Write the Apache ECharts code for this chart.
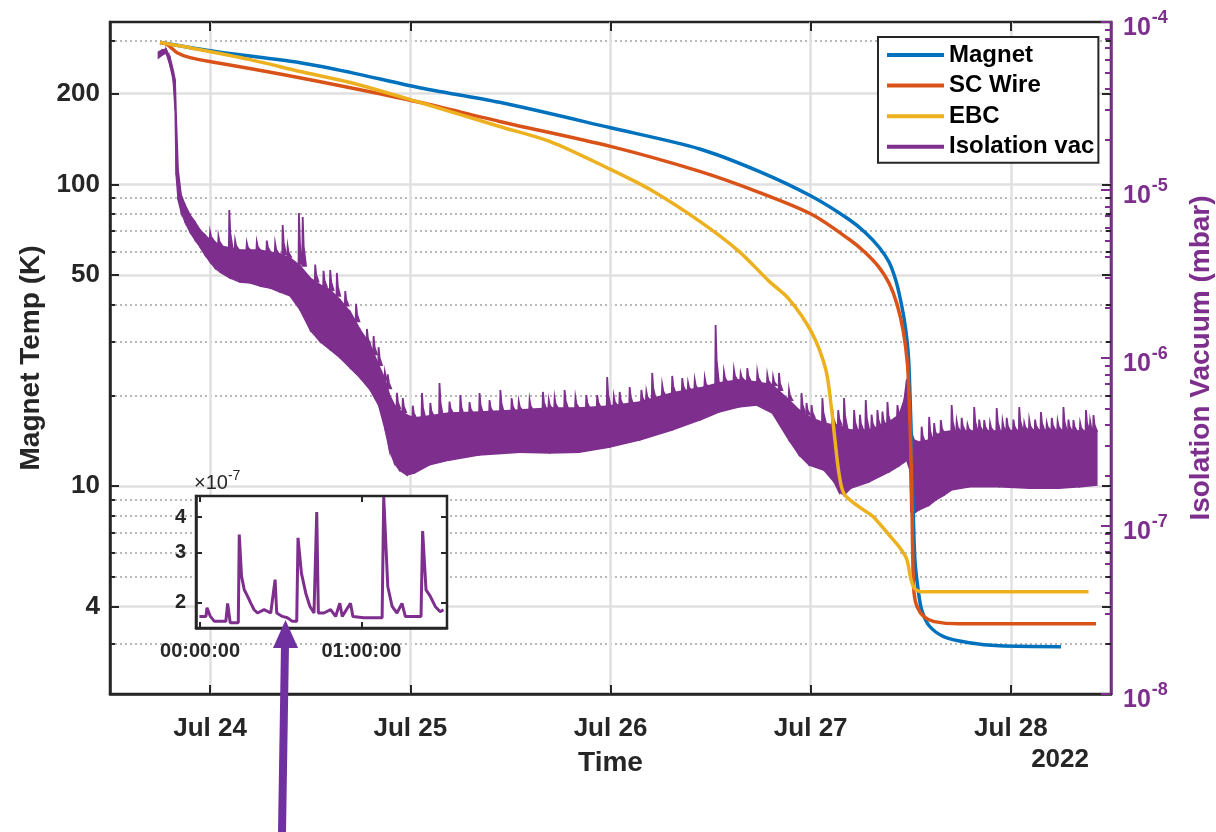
<!DOCTYPE html>
<html><head><meta charset="utf-8">
<script src="https://cdn.jsdelivr.net/npm/echarts@6/dist/echarts.min.js"></script>
<style>html,body{margin:0;padding:0;background:#fff}#chart{width:1216px;height:832px}</style>
</head><body><div id="chart"></div>
<script>
// ---------- DATA (hours since 2022-07-23 00:00) ----------
const magnetHours = [18.0, 24.8, 34.8, 40.8, 49.1, 58.7, 72.0, 82.7, 89.8, 96.1, 100.6, 102.5, 104.2, 105.4, 106.2, 106.8, 107.3, 107.7, 107.9, 108.1, 108.3, 108.5, 108.9, 109.3, 110.2, 112.0, 115.0, 118.6, 126.0];
const magnetTemp  = [295, 275, 253, 235, 209, 187, 154, 131, 110.4, 91.3, 76.5, 69.4, 61.9, 55.2, 48.1, 41.0, 34.4, 27.4, 20.2, 13.3, 8.09, 5.66, 4.50, 3.90, 3.45, 3.17, 3.03, 2.96, 2.94];

const wireHours = [18.0, 18.85, 20.05, 21.6, 24.8, 32.7, 40.8, 49.1, 58.7, 72.0, 82.7, 89.8, 96.1, 100.6, 102.5, 104.2, 105.4, 106.35, 107.1, 107.6, 107.8, 108.0, 108.15, 108.25, 108.4, 108.75, 109.6, 110.8, 113.8, 130.2];
const wireTemp  = [295, 290.5, 273, 263, 253, 231, 209, 187, 161.6, 133.6, 110.4, 94.1, 79.6, 65.8, 59.6, 53.1, 47.0, 40.1, 32.6, 25.4, 19.4, 13.3, 8.41, 5.53, 4.40, 3.99, 3.69, 3.56, 3.50, 3.50];

const ebcHours = [18.0, 20.8, 28.8, 34.8, 40.8, 49.1, 58.7, 64.7, 72.0, 76.7, 82.7, 87.4, 91.0, 93.4, 96.1, 97.8, 98.5, 98.9, 99.4, 100.0, 101.8, 103.4, 105.8, 106.6, 107.5, 108.0, 108.5, 109.6, 129.3];
const ebcTemp  = [295, 286, 259, 236.5, 217.5, 187, 155.5, 138.8, 112.1, 96.3, 75.4, 60.0, 47.8, 41.7, 32.4, 24.4, 18.0, 14.3, 10.98, 9.43, 8.54, 7.97, 6.69, 6.30, 5.75, 4.94, 4.57, 4.47, 4.47];

// Isolation vacuum (mbar): dense noisy trace read as lower / upper envelope
const vacHours = [17.8, 18.25, 18.73, 19.21, 19.57, 19.81, 19.93, 20.17, 20.53, 21.0, 21.6, 22.2, 22.8, 23.4, 24.0, 24.6, 25.2, 26.4, 27.6, 28.8, 30.0, 31.2, 32.4, 33.6, 34.8, 36.0, 37.2, 38.4, 39.6, 40.8, 42.0, 43.2, 44.2, 45.0, 45.5, 46.1, 46.7, 47.6, 48.5, 50.3, 52.7, 56.3, 61.1, 64.7, 68.3, 71.9, 75.5, 79.4, 82.7, 85.0, 87.4, 89.5, 91.4, 93.4, 94.6, 95.8, 97.6, 98.8, 99.4, 100.0, 100.8, 103.0, 105.4, 106.6, 107.2, 107.5, 107.9, 108.0, 108.4, 109.0, 110.2, 111.0, 112.0, 112.9, 115.0, 118.6, 122.2, 125.8, 128.2, 130.3];
const vacHigh = [6.63e-5, 6.81e-5, 6.91e-5, 6.11e-5, 5.18e-5, 4.52e-5, 2.80e-5, 1.32e-5, 9.34e-6, 8.14e-6, 7.10e-6, 6.45e-6, 5.78e-6, 5.40e-6, 5.04e-6, 4.90e-6, 4.64e-6, 4.52e-6, 4.39e-6, 4.39e-6, 4.39e-6, 4.27e-6, 4.16e-6, 3.94e-6, 3.53e-6, 2.99e-6, 2.72e-6, 2.54e-6, 2.21e-6, 1.88e-6, 1.47e-6, 1.195e-6, 9.08e-7, 7.40e-7, 6.02e-7, 5.25e-7, 4.90e-7, 4.58e-7, 4.40e-7, 4.52e-7, 4.71e-7, 4.77e-7, 4.90e-7, 5.04e-7, 5.04e-7, 5.18e-7, 5.47e-7, 6.19e-7, 6.63e-7, 7.10e-7, 7.40e-7, 7.20e-7, 6.91e-7, 5.62e-7, 4.90e-7, 4.46e-7, 4.10e-7, 3.99e-7, 3.99e-7, 3.83e-7, 3.73e-7, 3.73e-7, 4.16e-7, 4.58e-7, 5.62e-7, 7.40e-7, 7.71e-7, 3.73e-7, 3.25e-7, 3.16e-7, 3.25e-7, 3.48e-7, 3.63e-7, 3.68e-7, 3.68e-7, 3.68e-7, 3.73e-7, 3.73e-7, 3.68e-7, 3.68e-7];
const vacLow  = [6.11e-5, 6.36e-5, 6.54e-5, 5.47e-5, 4.52e-5, 2.99e-5, 1.23e-5, 8.72e-6, 7.40e-6, 6.45e-6, 5.62e-6, 5.04e-6, 4.58e-6, 4.10e-6, 3.73e-6, 3.43e-6, 3.25e-6, 2.99e-6, 2.83e-6, 2.80e-6, 2.68e-6, 2.61e-6, 2.47e-6, 2.34e-6, 1.93e-6, 1.47e-6, 1.25e-6, 1.12e-6, 1.00e-6, 8.72e-7, 7.60e-7, 6.45e-7, 5.25e-7, 3.73e-7, 2.83e-7, 2.37e-7, 2.15e-7, 2.01e-7, 2.07e-7, 2.31e-7, 2.47e-7, 2.65e-7, 2.75e-7, 2.72e-7, 2.75e-7, 2.95e-7, 3.25e-7, 3.73e-7, 4.27e-7, 4.77e-7, 5.11e-7, 5.25e-7, 4.71e-7, 3.25e-7, 2.65e-7, 2.31e-7, 2.15e-7, 1.83e-7, 1.59e-7, 1.53e-7, 1.68e-7, 1.83e-7, 2.10e-7, 2.28e-7, 2.40e-7, 2.47e-7, 2.15e-7, 1.21e-7, 1.19e-7, 1.25e-7, 1.33e-7, 1.43e-7, 1.53e-7, 1.64e-7, 1.71e-7, 1.71e-7, 1.68e-7, 1.68e-7, 1.71e-7, 1.75e-7];

// Larger pressure spikes: time, base, peak (mbar)
const spikeHours = [24.0, 26.3, 28.4, 32.7, 34.65, 35.1, 38.4, 39.2, 42.8, 44.2, 44.95, 47.1, 49.4, 51.5, 54.0, 55.1, 56.3, 57.5, 58.8, 60.15, 62.3, 63.9, 65.3, 66.5, 69.1, 70.4, 71.6, 73.1, 74.3, 75.7, 77.0, 78.2, 79.4, 80.6, 82.1, 83.3, 84.6, 85.6, 86.8, 88.4, 89.6, 90.8, 92.2, 93.4, 94.9, 96.1, 97.4, 98.6, 100.0, 101.2, 102.6, 104.0, 105.2, 106.4, 110.2, 111.6, 112.9, 114.1, 115.6, 116.8, 118.3, 119.5, 121.0, 122.2, 123.6, 124.9, 126.3, 127.5, 129.0, 129.9];
const spikeBase = [5.04e-6, 4.52e-6, 4.39e-6, 4.16e-6, 3.63e-6, 3.53e-6, 2.54e-6, 2.34e-6, 1.20e-6, 9.08e-7, 7.40e-7, 4.77e-7, 4.40e-7, 4.52e-7, 4.58e-7, 4.71e-7, 4.71e-7, 4.74e-7, 4.77e-7, 4.84e-7, 4.90e-7, 4.97e-7, 5.04e-7, 5.04e-7, 5.04e-7, 5.11e-7, 5.18e-7, 5.25e-7, 5.33e-7, 5.47e-7, 5.78e-7, 6.00e-7, 6.19e-7, 6.36e-7, 6.50e-7, 6.70e-7, 7.10e-7, 7.20e-7, 7.40e-7, 7.30e-7, 7.20e-7, 7.00e-7, 6.45e-7, 5.62e-7, 4.77e-7, 4.40e-7, 4.16e-7, 4.00e-7, 3.83e-7, 3.73e-7, 3.73e-7, 3.90e-7, 4.05e-7, 4.50e-7, 3.25e-7, 3.55e-7, 3.63e-7, 3.68e-7, 3.68e-7, 3.68e-7, 3.68e-7, 3.68e-7, 3.73e-7, 3.73e-7, 3.73e-7, 3.73e-7, 3.68e-7, 3.68e-7, 3.68e-7, 3.68e-7];
const spikePeak = [5.62e-6, 7.60e-6, 4.84e-6, 6.19e-6, 7.30e-6, 6.91e-6, 3.34e-6, 3.21e-6, 1.49e-6, 1.16e-6, 8.26e-7, 5.78e-7, 6.19e-7, 7.10e-7, 6.02e-7, 5.47e-7, 6.19e-7, 5.62e-7, 6.45e-7, 5.78e-7, 5.62e-7, 6.28e-7, 5.78e-7, 6.45e-7, 6.02e-7, 6.02e-7, 7.71e-7, 6.28e-7, 6.72e-7, 6.45e-7, 8.15e-7, 6.91e-7, 7.82e-7, 7.60e-7, 7.40e-7, 7.60e-7, 1.57e-6, 8.26e-7, 8.49e-7, 8.72e-7, 8.26e-7, 7.93e-7, 8.15e-7, 6.45e-7, 6.19e-7, 5.25e-7, 5.78e-7, 4.90e-7, 5.78e-7, 4.90e-7, 5.62e-7, 4.90e-7, 5.47e-7, 5.25e-7, 4.46e-7, 4.27e-7, 5.25e-7, 4.40e-7, 5.11e-7, 4.27e-7, 5.04e-7, 4.40e-7, 5.11e-7, 4.27e-7, 4.77e-7, 4.40e-7, 5.11e-7, 4.27e-7, 4.90e-7, 4.58e-7];

// Smaller spikes along the top of the noise band
const smallSpikeHours = [25.0, 27.0, 29.6, 30.8, 31.8, 33.3, 36.6, 37.6, 40.2, 41.5, 43.6, 45.3, 46.4, 48.3, 50.4, 52.7, 61.0, 64.6, 67.8, 72.4, 76.3, 81.3, 87.6, 91.5, 95.5, 99.3, 101.9, 103.3, 104.6, 109.3, 110.8, 113.5, 114.8, 116.2, 117.5, 119.0, 120.3, 121.6, 122.9, 124.3, 125.6, 126.9, 128.3, 129.5];
const smallSpikeBase  = [4.7e-6, 4.45e-6, 4.39e-6, 4.3e-6, 4.2e-6, 4.0e-6, 2.85e-6, 2.65e-6, 2.05e-6, 1.65e-6, 1.05e-6, 6.6e-7, 5.0e-7, 4.40e-7, 4.52e-7, 4.71e-7, 4.9e-7, 5.0e-7, 5.04e-7, 5.2e-7, 5.6e-7, 6.4e-7, 7.4e-7, 6.9e-7, 4.6e-7, 4.0e-7, 3.73e-7, 3.8e-7, 3.95e-7, 3.16e-7, 3.4e-7, 3.68e-7, 3.68e-7, 3.68e-7, 3.68e-7, 3.68e-7, 3.7e-7, 3.73e-7, 3.73e-7, 3.73e-7, 3.73e-7, 3.68e-7, 3.68e-7, 3.68e-7];
const smallSpikePeak  = [5.3e-6, 5.0e-6, 4.9e-6, 5.0e-6, 4.8e-6, 4.6e-6, 3.6e-6, 3.3e-6, 2.5e-6, 2.1e-6, 1.35e-6, 8.0e-7, 6.2e-7, 5.2e-7, 5.4e-7, 5.5e-7, 5.5e-7, 5.6e-7, 5.8e-7, 5.9e-7, 6.3e-7, 7.1e-7, 8.1e-7, 7.7e-7, 5.4e-7, 4.9e-7, 4.6e-7, 4.6e-7, 4.8e-7, 3.9e-7, 4.1e-7, 4.2e-7, 4.0e-7, 4.3e-7, 4.1e-7, 4.2e-7, 4.3e-7, 4.1e-7, 4.3e-7, 4.1e-7, 4.2e-7, 4.3e-7, 4.1e-7, 4.2e-7];

// Inset: 1.5 h detail (hours from 00:00:00), vacuum in units of 1e-7 mbar
const insetHours = [-0.004, 0.037, 0.043, 0.064, 0.089, 0.160, 0.171, 0.187, 0.222, 0.237, 0.243, 0.257, 0.274, 0.294, 0.315, 0.335, 0.356, 0.397, 0.438, 0.465, 0.475, 0.510, 0.541, 0.572, 0.599, 0.607, 0.628, 0.655, 0.681, 0.706, 0.723, 0.733, 0.767, 0.809, 0.840, 0.866, 0.881, 0.932, 0.947, 1.014, 1.128, 1.138, 1.163, 1.190, 1.220, 1.251, 1.272, 1.344, 1.369, 1.379, 1.400, 1.426, 1.457, 1.488, 1.508];
const insetVac   = [1.79, 1.79, 1.92, 1.79, 1.72, 1.72, 1.99, 1.70, 1.70, 1.70, 3.47, 2.48, 2.22, 2.11, 1.99, 1.89, 1.84, 1.89, 1.84, 2.41, 1.84, 1.79, 1.77, 1.72, 1.72, 3.38, 2.54, 2.16, 1.94, 1.84, 4.16, 1.84, 1.84, 1.89, 1.79, 1.99, 1.79, 1.99, 1.79, 1.77, 1.77, 4.70, 2.28, 1.94, 1.84, 1.99, 1.79, 1.79, 1.79, 3.57, 2.22, 2.11, 1.94, 1.86, 1.89];

// Ticks
const dayTickHours = [24, 48, 72, 96, 120];
const dayTickLabels = ['Jul 24', 'Jul 25', 'Jul 26', 'Jul 27', 'Jul 28'];
const tempLabelTicks = [4, 10, 50, 100, 200];
const tempMinorTicks = [3, 5, 6, 7, 8, 9, 20, 30, 40, 60, 70, 80, 90, 300];
const vacDecades = [-8, -7, -6, -5, -4];
const vacMinorMantissas = [2, 3, 4, 5, 6, 7, 8, 9];
const insetTickHours = [0, 1];
const insetTickLabels = ['00:00:00', '01:00:00'];
const insetVacTicks = [2, 3, 4];

// ---------- CHART ----------
const LOG = Math.log10;
const FONT = '"Liberation Sans", Arial, Helvetica, sans-serif';
const INK = '#262626';
const PURPLE = '#7E2F8E';
const C_MAG = '#0072BD', C_WIRE = '#D95319', C_EBC = '#EDB120';

const tMin = LOG(2.05), tMax = LOG(345);
const xMin = 12, xMax = 132;
const vacMinorLogs = [];
vacDecades.slice(0, 4).forEach(d => vacMinorMantissas.forEach(m => vacMinorLogs.push(d + LOG(m))));

const vacRows = vacHours.map((h, i) => [h, LOG(vacLow[i]), LOG(vacHigh[i])]);
const spikeRows = spikeHours.map((h, i) => [h, LOG(spikeBase[i]), LOG(spikePeak[i])])
  .concat(smallSpikeHours.map((h, i) => [h, LOG(smallSpikeBase[i]), LOG(smallSpikePeak[i])]));
const toLine = (hs, vs) => hs.map((h, i) => [h, LOG(vs[i])]);

const tickLabel = {fontFamily: FONT, fontWeight: 'bold', color: INK, fontSize: 26};
const hidden = {show: false};

function tempAxis(pos, ticks, len, extra) {
  return Object.assign({
    type: 'value', gridIndex: 0, position: pos, min: tMin, max: tMax,
    axisLine: {show: false, onZero: false}, axisLabel: hidden, splitLine: hidden,
    axisTick: {show: true, inside: true, length: len, customValues: ticks.map(LOG), lineStyle: {color: INK, width: 2}}
  }, extra || {});
}

const option = {
  animation: false,
  backgroundColor: '#fff',
  grid: [
    {left: 110, top: 22, width: 1001, height: 672, show: true, backgroundColor: '#fff', borderColor: INK, borderWidth: 2.5, z: 0,
     containLabel: false, outerBoundsMode: 'none'},
    {left: 196, top: 496, width: 251, height: 132, show: true, backgroundColor: '#fff', borderColor: INK, borderWidth: 2.5, z: 10,
     containLabel: false, outerBoundsMode: 'none'}
  ],
  legend: {
    orient: 'vertical', left: 878, top: 37, padding: [6, 4, 4, 7], itemGap: 6.6,
    itemWidth: 57, itemHeight: 4, backgroundColor: '#fff', borderColor: INK, borderWidth: 2,
    lineStyle: {width: 4},
    textStyle: {fontFamily: FONT, fontWeight: 'bold', fontSize: 24, color: '#000'},
    data: [{name: 'Magnet'}, {name: 'SC Wire'}, {name: 'EBC'}, {name: 'Isolation vac', icon: 'rect'}]
  },
  xAxis: [
    {type: 'value', gridIndex: 0, position: 'bottom', min: xMin, max: xMax,
     name: 'Time', nameLocation: 'middle', nameGap: 55,
     nameTextStyle: {fontFamily: FONT, fontWeight: 'bold', fontSize: 28, color: INK},
     axisLine: {onZero: false, lineStyle: {color: INK, width: 2.5}},
     axisTick: {inside: true, length: 9, customValues: dayTickHours, lineStyle: {color: INK, width: 2}},
     axisLabel: Object.assign({customValues: dayTickHours, margin: 22,
        formatter: v => dayTickLabels[dayTickHours.indexOf(Math.round(v))] || ''}, tickLabel),
     splitLine: {show: true, lineStyle: {color: '#e0e0e0', width: 2.5}}},
    {type: 'value', gridIndex: 0, position: 'top', min: xMin, max: xMax,
     axisLine: {show: false, onZero: false}, axisLabel: hidden, splitLine: hidden,
     axisTick: {inside: true, length: 9, customValues: dayTickHours, lineStyle: {color: INK, width: 2}}},
    {type: 'value', gridIndex: 1, position: 'bottom', min: -0.025, max: 1.53, z: 11,
     axisLine: {onZero: false, lineStyle: {color: INK, width: 2.5}},
     axisTick: {inside: true, length: 6, customValues: insetTickHours, lineStyle: {color: INK, width: 2}},
     axisLabel: {customValues: insetTickHours, margin: 13, fontFamily: FONT, fontWeight: 'bold', fontSize: 20, color: INK,
        formatter: v => insetTickLabels[insetTickHours.indexOf(Math.round(v))] || ''},
     splitLine: hidden},
    {type: 'value', gridIndex: 1, position: 'top', min: -0.025, max: 1.53, z: 11,
     axisLine: {show: false, onZero: false}, axisLabel: hidden, splitLine: hidden,
     axisTick: {inside: true, length: 6, customValues: insetTickHours, lineStyle: {color: INK, width: 2}}}
  ],
  yAxis: [
    {type: 'value', gridIndex: 0, position: 'left', min: tMin, max: tMax,
     name: 'Magnet Temp (K)', nameLocation: 'middle', nameGap: 60,
     nameTextStyle: {fontFamily: FONT, fontWeight: 'bold', fontSize: 28, color: INK},
     axisLine: {show: true, onZero: false, lineStyle: {color: INK, width: 2.5}},
     axisTick: {inside: true, length: 9, customValues: tempLabelTicks.map(LOG), lineStyle: {color: INK, width: 2}},
     axisLabel: Object.assign({customValues: tempLabelTicks.map(LOG), margin: 10,
        formatter: v => String(Math.round(Math.pow(10, v)))}, tickLabel),
     splitLine: {show: true, lineStyle: {color: '#e0e0e0', width: 2.5}}},
    {type: 'value', gridIndex: 0, position: 'right', min: -8, max: -4,
     name: 'Isolation Vacuum (mbar)', nameLocation: 'middle', nameGap: 76,
     nameTextStyle: {fontFamily: FONT, fontWeight: 'bold', fontSize: 28, color: PURPLE},
     axisLine: {show: true, onZero: false, lineStyle: {color: PURPLE, width: 2.5}},
     axisTick: {inside: true, length: 10, customValues: vacDecades, lineStyle: {color: PURPLE, width: 2}},
     axisLabel: {customValues: vacDecades, margin: 12, padding: [6, 0, 0, 0],
        formatter: v => '{b|10}{s|' + Math.round(v) + '}',
        rich: {
          b: {fontFamily: FONT, fontWeight: 'bold', fontSize: 25, color: PURPLE, verticalAlign: 'bottom'},
          s: {fontFamily: FONT, fontWeight: 'bold', fontSize: 18, color: PURPLE, verticalAlign: 'bottom', padding: [0, 0, 13, 1]}
        }},
     splitLine: hidden},
    tempAxis('left', tempMinorTicks, 5, {splitLine: {show: true, lineStyle: {color: '#b8b8b8', width: 2, type: [2, 3]}}}),
    {type: 'value', gridIndex: 0, position: 'right', min: -8, max: -4,
     axisLine: {show: false, onZero: false}, axisLabel: hidden, splitLine: hidden,
     axisTick: {inside: true, length: 6, customValues: vacMinorLogs, lineStyle: {color: PURPLE, width: 2}}},
    tempAxis('right', tempLabelTicks, 9),
    tempAxis('right', tempMinorTicks, 5),
    {type: 'value', gridIndex: 1, position: 'left', min: LOG(1.63), max: LOG(4.74), z: 11,
     name: '{a|×10}{b|-7}', nameLocation: 'end', nameGap: 3,
     nameTextStyle: {align: 'left', verticalAlign: 'bottom', padding: [0, 0, 0, -2],
        rich: {a: {fontFamily: FONT, fontSize: 20, color: INK, verticalAlign: 'bottom'},
               b: {fontFamily: FONT, fontSize: 14, color: INK, verticalAlign: 'bottom', padding: [0, 0, 10, 0]}}},
     axisLine: {show: true, onZero: false, lineStyle: {color: INK, width: 2.5}},
     axisTick: {inside: true, length: 6, customValues: insetVacTicks.map(LOG), lineStyle: {color: INK, width: 2}},
     axisLabel: {customValues: insetVacTicks.map(LOG), margin: 10, fontFamily: FONT, fontWeight: 'bold', fontSize: 20, color: INK,
        formatter: v => String(Math.round(Math.pow(10, v)))},
     splitLine: hidden},
    {type: 'value', gridIndex: 1, position: 'right', min: LOG(1.63), max: LOG(4.74), z: 11,
     axisLine: {show: false, onZero: false}, axisLabel: hidden, splitLine: hidden,
     axisTick: {inside: true, length: 6, customValues: insetVacTicks.map(LOG), lineStyle: {color: INK, width: 2}}}
  ],
  series: [
    {name: 'Magnet', type: 'line', xAxisIndex: 0, yAxisIndex: 0, data: toLine(magnetHours, magnetTemp),
     symbol: 'none', smooth: 0.3, color: C_MAG, lineStyle: {width: 3.5, color: C_MAG}},
    {name: 'SC Wire', type: 'line', xAxisIndex: 0, yAxisIndex: 0, data: toLine(wireHours, wireTemp),
     symbol: 'none', smooth: 0.3, color: C_WIRE, lineStyle: {width: 3.5, color: C_WIRE}},
    {name: 'EBC', type: 'line', xAxisIndex: 0, yAxisIndex: 0, data: toLine(ebcHours, ebcTemp),
     symbol: 'none', smooth: 0.3, color: C_EBC, lineStyle: {width: 3.5, color: C_EBC}},
    {name: 'Isolation vac', type: 'custom', xAxisIndex: 0, yAxisIndex: 1, data: vacRows,
     encode: {x: 0, y: [1, 2]}, color: PURPLE, itemStyle: {color: PURPLE}, clip: true,
     renderItem: function (params, api) {
       const a = vacRows[params.dataIndex], b = vacRows[params.dataIndex + 1];
       if (!b) return null;
       const pts = [api.coord([a[0], a[1]]), api.coord([a[0], a[2]]), api.coord([b[0], b[2]]), api.coord([b[0], b[1]])];
       return {type: 'polygon', shape: {points: pts}, style: {fill: PURPLE, stroke: PURPLE, lineWidth: 1.5}};
     }},
    {name: 'Isolation vac', type: 'custom', xAxisIndex: 0, yAxisIndex: 1, data: spikeRows,
     encode: {x: 0, y: [1, 2]}, color: PURPLE, itemStyle: {color: PURPLE}, clip: true,
     renderItem: function (params, api) {
       const h = api.value(0), base = api.value(1), peak = api.value(2);
       const mid = base + 0.4 * (peak - base);
       const pts = [api.coord([h - 0.05, base]), api.coord([h, peak]), api.coord([h + 0.12, mid]), api.coord([h + 0.4, base])];
       return {type: 'polygon', shape: {points: pts}, style: {fill: PURPLE, stroke: PURPLE, lineWidth: 1.8}};
     }},
    {name: 'inset', type: 'line', xAxisIndex: 2, yAxisIndex: 6, data: toLine(insetHours, insetVac), z: 12,
     symbol: 'none', clip: true, color: PURPLE, lineStyle: {width: 3, color: PURPLE}}
  ],
  graphic: [
    {type: 'line', z: 100, shape: {x1: 282, y1: 832, x2: 285, y2: 644}, style: {stroke: '#7030A0', lineWidth: 8}},
    {type: 'polygon', z: 100, shape: {points: [[285.5, 620], [273, 648], [298, 648]]}, style: {fill: '#7030A0'}},
    {type: 'text', z: 100, style: {text: '2022', x: 1089, y: 760, align: 'right', verticalAlign: 'middle',
      fontFamily: FONT, fontWeight: 'bold', fontSize: 26, fill: INK}}
  ]
};

const chart = echarts.init(document.getElementById('chart'), null, {renderer: 'canvas'});
chart.setOption(option);
</script></body></html>
